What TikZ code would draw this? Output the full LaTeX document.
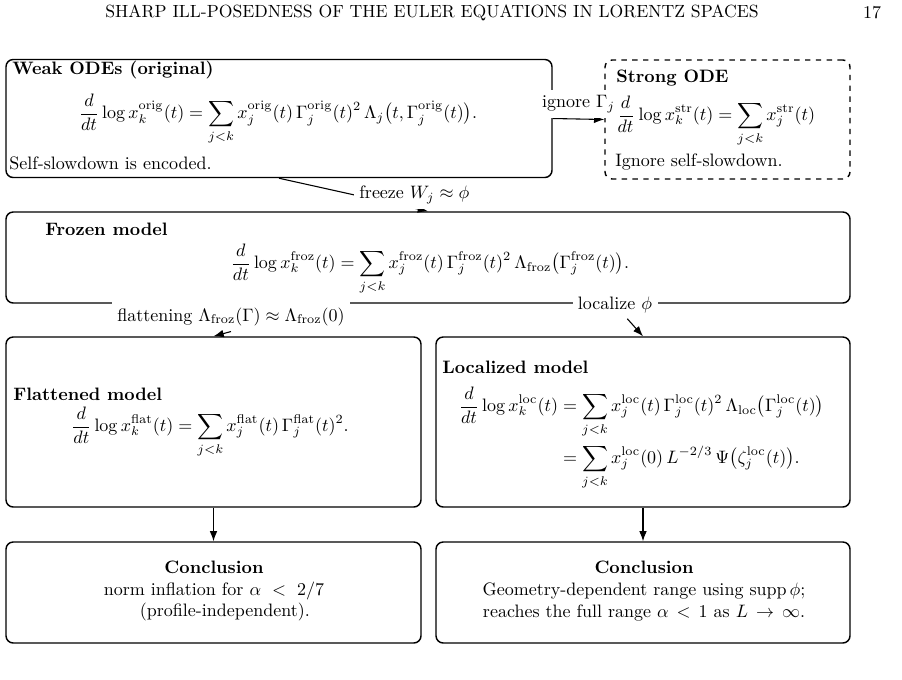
\documentclass[tikz,border=0pt]{standalone}
\usepackage{amsmath,amssymb}
\usepackage{tikz}
\usetikzlibrary{arrows.meta,positioning,calc}
\newcommand{\px}{0.5556pt}

\begin{document}
\begin{tikzpicture}[
  x=0.5556pt, y=-0.5556pt,
  box/.style={draw,thick,rounded corners=4pt,inner sep=0pt},
  ttl/.style={font=\bfseries,inner sep=0pt,anchor=west},
  txt/.style={inner sep=0pt,anchor=west},
  eqn/.style={inner sep=0pt},
  arr/.style={-Latex,semithick},
  lbl/.style={fill=white,inner sep=3pt},
  concl/.style={align=center,inner sep=0pt}
]
\useasboundingbox (0,0) rectangle (902,679);

%% running head
\node[inner sep=0pt,font=\fontsize{9.8}{12}\selectfont] (head) at (432,13)
  {SHARP ILL-POSEDNESS OF THE EULER EQUATIONS IN LORENTZ SPACES};
\node[inner sep=0pt] (page) at (872,13) {17};

%% boxes: weak / strong on top, frozen, then two branches
\node[box,minimum width=546*\px,minimum height=118*\px] (weak)   at (279,118.5) {};
\node[box,dashed,minimum width=245*\px,minimum height=119*\px] (strong) at (727.5,119.5) {};
\node[box,minimum width=844*\px,minimum height=91*\px]  (frozen) at (428,257.5) {};
\node[box,minimum width=415*\px,minimum height=170*\px] (flat)   at (213.5,422) {};
\node[box,minimum width=414*\px,minimum height=170*\px] (loc)    at (643,422) {};
\node[box,minimum width=415*\px,minimum height=101*\px] (cflat)  at (213.5,592.5) {};
\node[box,minimum width=414*\px,minimum height=101*\px] (cloc)   at (643,592.5) {};

%% weak ODEs
\node[ttl] (weakT) at (12,70) {Weak ODEs (original)};
\node[eqn] (weakE) at (278,119) {$\displaystyle
  \frac{d}{dt}\log x_k^{\mathrm{orig}}(t)=\sum_{j<k} x_j^{\mathrm{orig}}(t)\,
  \Gamma_j^{\mathrm{orig}}(t)^2\,\Lambda_j\bigl(t,\Gamma_j^{\mathrm{orig}}(t)\bigr).$};
\node[txt] (weakN) at (9,163) {Self-slowdown is encoded.};

%% strong ODE
\node[ttl] (strongT) at (616,78) {Strong ODE};
\node[eqn,anchor=west] (strongE) at (615,121) {$\displaystyle
  \frac{d}{dt}\log x_k^{\mathrm{str}}(t)=\sum_{j<k} x_j^{\mathrm{str}}(t)$};
\node[txt] (strongN) at (615,162) {Ignore self-slowdown.};

%% frozen model
\node[ttl] (frozT) at (45,229) {Frozen model};
\node[eqn] (frozE) at (430,269) {$\displaystyle
  \frac{d}{dt}\log x_k^{\mathrm{froz}}(t)=\sum_{j<k} x_j^{\mathrm{froz}}(t)\,
  \Gamma_j^{\mathrm{froz}}(t)^2\,\Lambda_{\mathrm{froz}}\bigl(\Gamma_j^{\mathrm{froz}}(t)\bigr).$};

%% flattened model
\node[ttl] (flatT) at (13,394) {Flattened model};
\node[eqn] (flatE) at (210,432) {$\displaystyle
  \frac{d}{dt}\log x_k^{\mathrm{flat}}(t)=\sum_{j<k} x_j^{\mathrm{flat}}(t)\,
  \Gamma_j^{\mathrm{flat}}(t)^2.$};

%% localized model
\node[ttl] (locT) at (442,367) {Localized model};
\node[eqn] (locE) at (641.5,438) {$\displaystyle\begin{aligned}
  \frac{d}{dt}\log x_k^{\mathrm{loc}}(t)
   &=\sum_{j<k} x_j^{\mathrm{loc}}(t)\,\Gamma_j^{\mathrm{loc}}(t)^2\,
     \Lambda_{\mathrm{loc}}\bigl(\Gamma_j^{\mathrm{loc}}(t)\bigr)\\
   &=\sum_{j<k} x_j^{\mathrm{loc}}(0)\,L^{-2/3}\,
     \Psi\bigl(\zeta_j^{\mathrm{loc}}(t)\bigr).
  \end{aligned}$};

%% conclusions
\node[concl] (cflatT) at (214,591)
  {\textbf{Conclusion}\\ norm inflation for $\alpha\ <\ 2/7$\\
   \hspace*{1.2em}(profile-independent).};
\node[concl] (clocT) at (644,591)
  {\textbf{Conclusion}\\ Geometry-dependent range using $\operatorname{supp}\phi$;\\
   reaches the full range $\alpha\,<\,1$ as $L\,\to\,\infty$.};

%% weak -> strong
\draw[arr] (weak.east) -- node[lbl,above]{ignore $\Gamma_j$} (strong.west);

%% weak -> frozen
\draw[arr] (weak.south) -- node[lbl,right]{freeze $W_j\approx\phi$} (frozen.north);

%% frozen -> flattened / localized
\node[lbl,anchor=north] (flatL) at (231,302)
  {flattening $\Lambda_{\mathrm{froz}}(\Gamma)\approx\Lambda_{\mathrm{froz}}(0)$};
\draw[arr] (flatL.south) -- (flat.north);
\node[lbl] (locL) at (615,305) {localize $\phi$};
\draw[arr] (locL) -- (loc.north);

%% down to conclusions
\draw[arr] (flat) -- (cflat);
\draw[arr] (loc) -- (cloc);

\end{tikzpicture}
\end{document}
